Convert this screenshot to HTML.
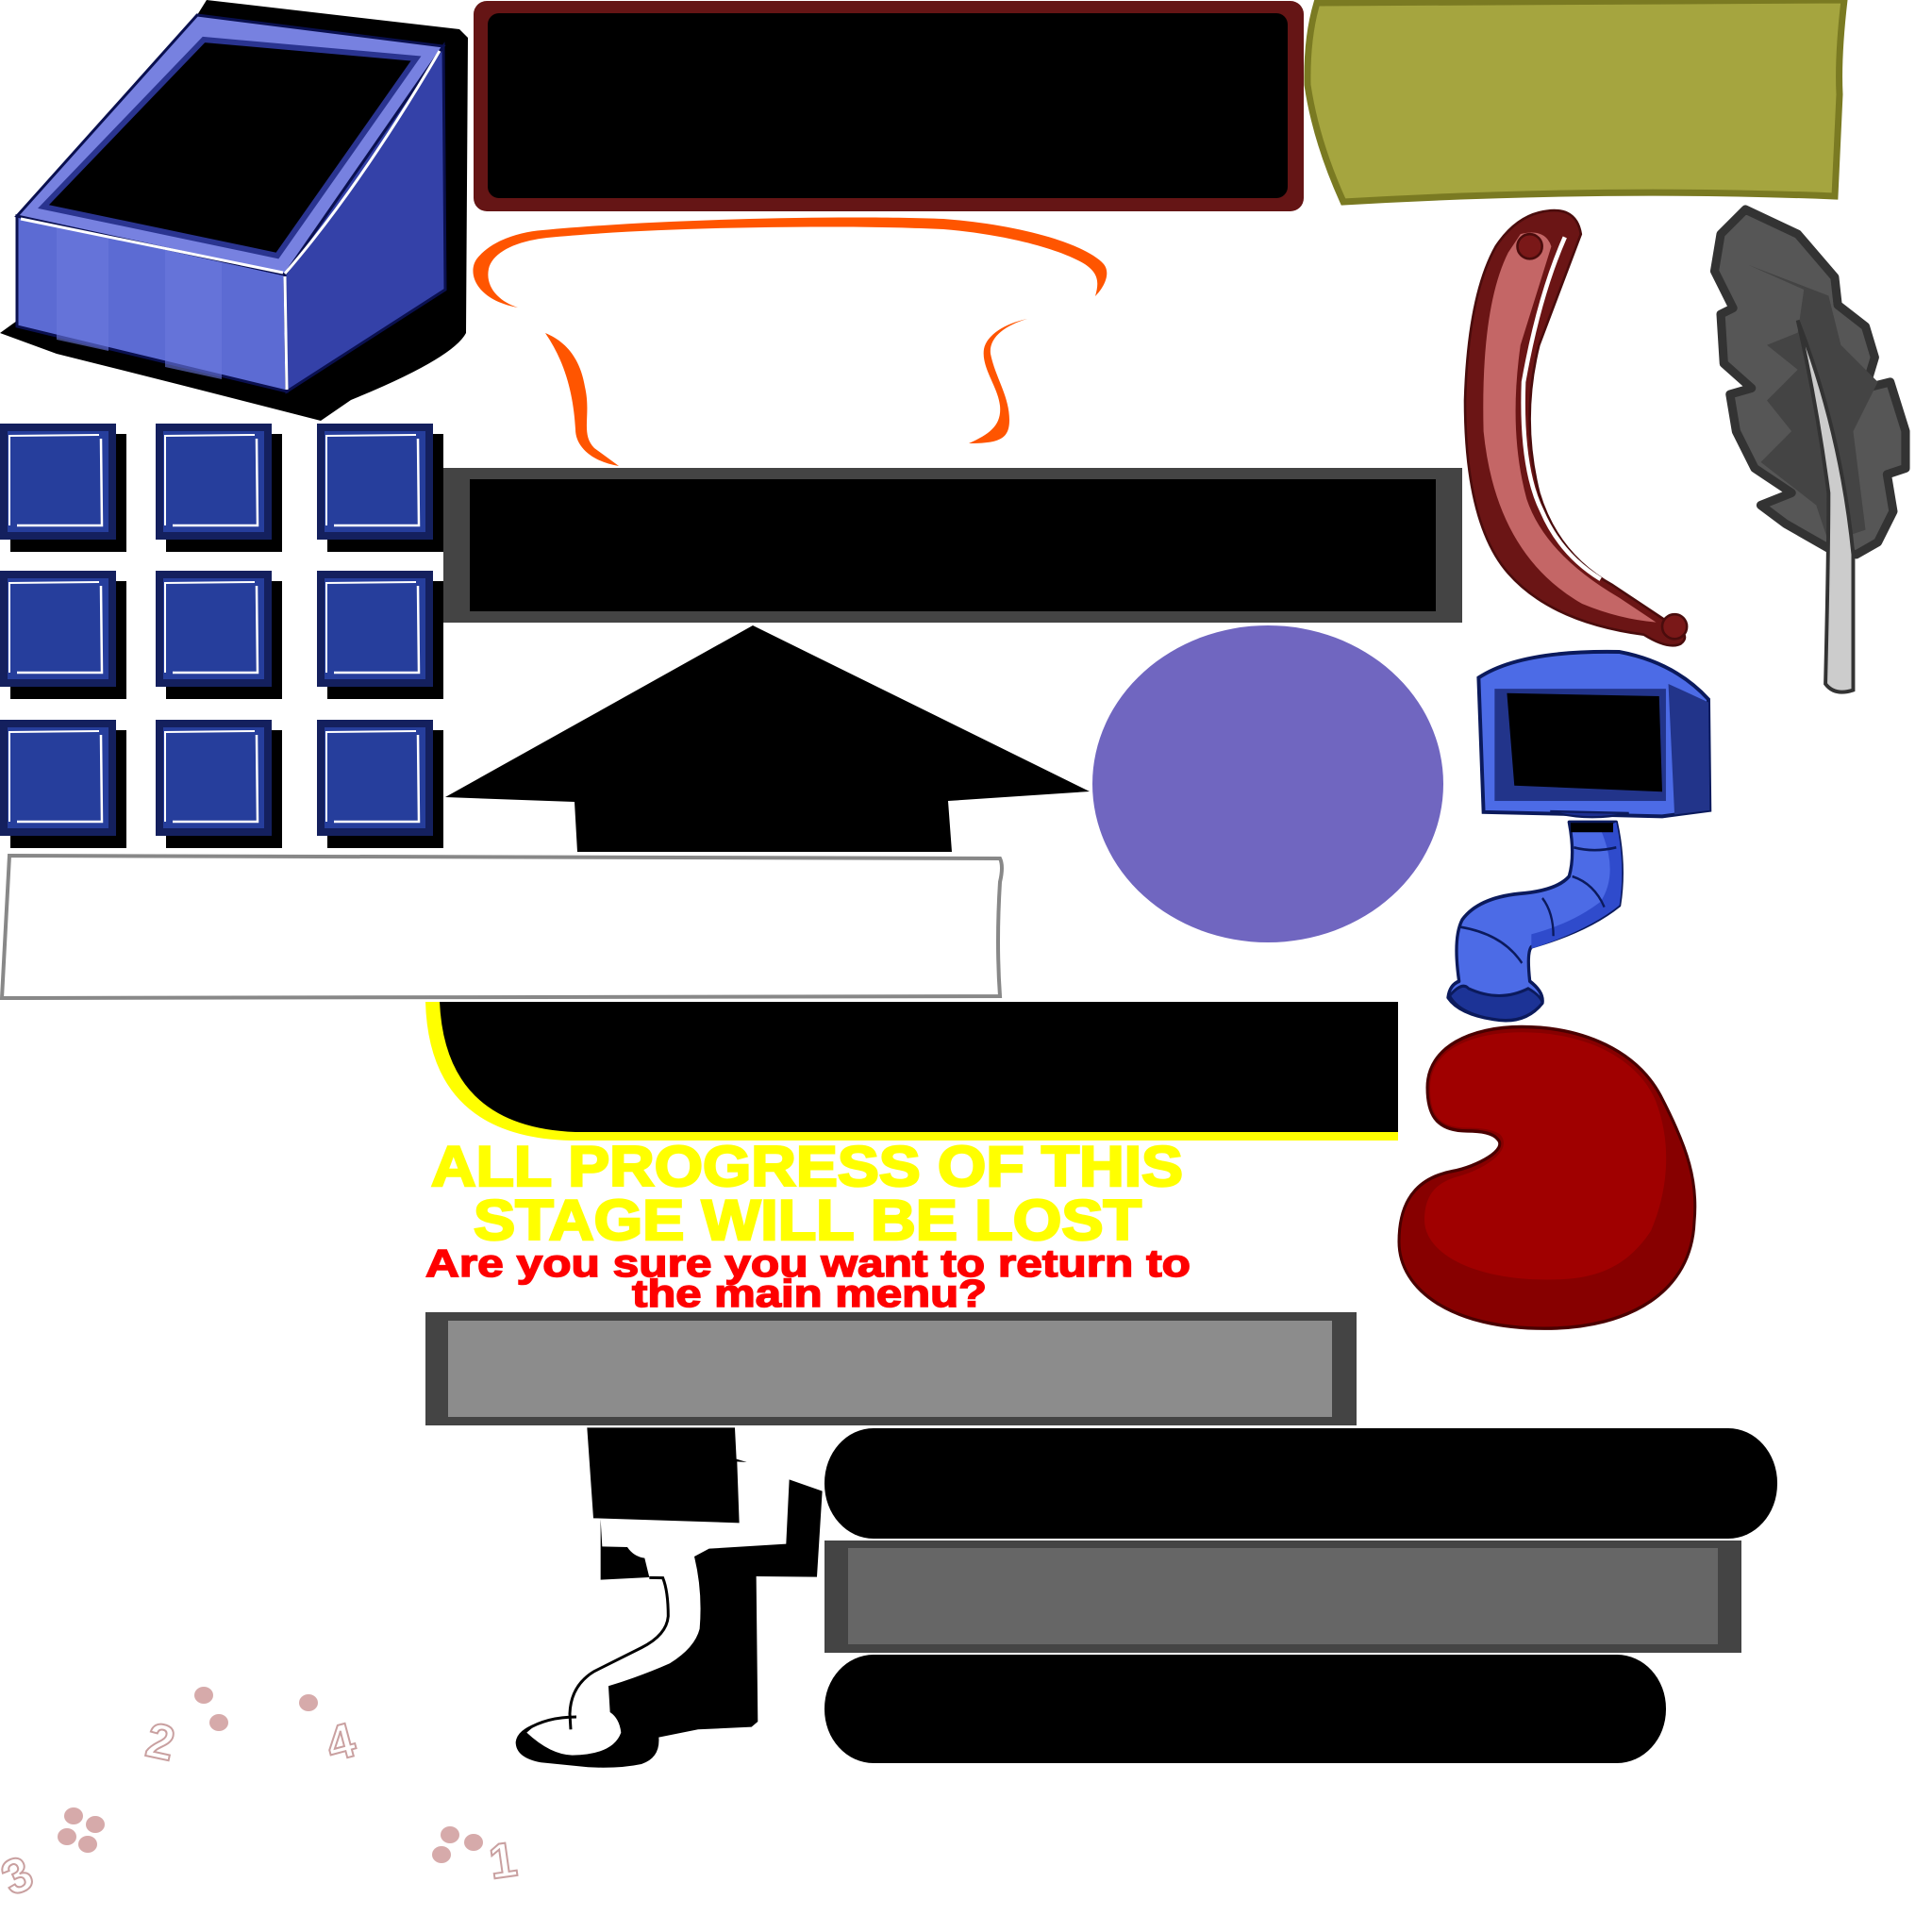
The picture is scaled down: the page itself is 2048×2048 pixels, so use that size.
<!DOCTYPE html>
<html><head><meta charset="utf-8"><style>html,body{margin:0;padding:0;background:#fff}svg{display:block}</style></head>
<body>
<svg width="2048" height="2048" viewBox="0 0 2048 2048" xmlns="http://www.w3.org/2000/svg">
<defs>
<g id="sq">
<rect x="11" y="11" width="123" height="125" fill="#000"/>
<rect x="0" y="0" width="123" height="123" fill="#14205e"/>
<rect x="8" y="8" width="107" height="107" fill="#263e9c"/>
<path d="M105,12 L10,13 L10,108" stroke="#fff" stroke-width="2" fill="none"/>
<path d="M107,16 L108,108 L18,108" stroke="#fff" stroke-width="2.5" fill="none"/>
</g>
</defs>
<rect width="2048" height="2048" fill="#fff"/>

<path d="M219,0 L487,31 L496,40 L494,353 Q480,380 372,424 L340,446 Q200,410 60,375 L0,353 L18,340 L209,16 Z" fill="#000"/>
<polygon points="18,229 302,291 304,415 18,346" fill="#5c6bd3" stroke="#0a1050" stroke-width="3"/>
<polygon points="60,238 115,250 115,372 60,360" fill="#6a78de" opacity="0.6"/>
<polygon points="175,263 235,276 235,402 175,389" fill="#6a78de" opacity="0.6"/>
<polygon points="302,291 470,49 472,307 304,415" fill="#3441a8" stroke="#0a1050" stroke-width="3"/>
<polygon points="18,229 209,16 470,49 302,291" fill="#7781e0" stroke="#0a1050" stroke-width="3"/>
<polygon points="216,42 441,62 294,271 46,219" fill="#000" stroke="#2a3490" stroke-width="6"/>
<path d="M302,293 L304,413" stroke="#fff" stroke-width="3"/>
<path d="M302,290 Q380,200 466,54" stroke="#fff" stroke-width="3" fill="none"/>
<path d="M22,232 L300,289" stroke="#fff" stroke-width="3"/>

<rect x="502" y="1" width="880" height="223" rx="14" fill="#651515"/>
<rect x="517" y="14" width="848" height="196" rx="12" fill="#000"/>

<path d="M1396,3 L1955,0 Q1948,60 1950,100 L1945,208 Q1700,198 1424,214 Q1395,150 1386,90 Q1385,40 1396,3 Z" fill="#a5a53f" stroke="#7a7a22" stroke-width="7"/>

<path d="M549,326 C505,318 495,290 505,275 C520,255 550,246 575,244 C700,232 900,228 1000,232 C1080,238 1150,258 1170,280 C1178,290 1170,305 1161,314 C1165,300 1165,290 1150,280 C1120,262 1060,248 1000,243 C900,238 700,240 580,252 C545,256 522,268 518,285 C514,305 530,320 549,326 Z" fill="#ff5500"/>
<path d="M578,353 C600,362 615,380 620,410 C627,440 615,460 630,475 L656,494 C630,490 610,475 610,455 C608,420 600,385 578,353 Z" fill="#ff5500"/>
<path d="M1089,338 C1065,345 1048,358 1050,375 C1055,400 1070,420 1070,445 C1070,465 1060,470 1027,470 C1050,460 1062,450 1060,430 C1058,410 1040,390 1043,370 C1046,355 1065,343 1089,338 Z" fill="#ff5500"/>

<rect x="470" y="496" width="1080" height="164" fill="#444"/>
<rect x="498" y="508" width="1024" height="140" fill="#000"/>

<use href="#sq" x="0" y="449"/>
<use href="#sq" x="165" y="449"/>
<use href="#sq" x="336" y="449"/>
<use href="#sq" x="0" y="605"/>
<use href="#sq" x="165" y="605"/>
<use href="#sq" x="336" y="605"/>
<use href="#sq" x="0" y="763"/>
<use href="#sq" x="165" y="763"/>
<use href="#sq" x="336" y="763"/>

<polygon points="798,663 1155,839 1005,849 1009,903 612,903 609,850 472,845" fill="#000"/>

<ellipse cx="1344" cy="831" rx="186" ry="168" fill="#7066c0"/>

<path d="M10,907 L1060,910 Q1064,918 1060,935 Q1056,1000 1060,1056 L25,1058 L2,1058 Q6,980 10,907 Z" fill="#fff" stroke="#888" stroke-width="4"/>

<path d="M451,1062 L1482,1062 L1482,1209 L605,1209 Q455,1205 451,1062 Z" fill="#ff0"/>
<path d="M466,1062 L1482,1062 L1482,1200 L610,1200 Q472,1195 466,1062 Z" fill="#000"/>

<g font-family="'Liberation Sans', Arial, sans-serif" font-weight="bold">
<text x="457" y="1257" font-size="60" fill="#ff0" stroke="#ff0" stroke-width="2.5" textLength="797" lengthAdjust="spacingAndGlyphs">ALL PROGRESS OF THIS</text>
<text x="502" y="1314" font-size="60" fill="#ff0" stroke="#ff0" stroke-width="2.5" textLength="708" lengthAdjust="spacingAndGlyphs">STAGE WILL BE LOST</text>
<text x="451" y="1353" font-size="41" fill="#f00" stroke="#f00" stroke-width="1.5" textLength="811" lengthAdjust="spacingAndGlyphs">Are you sure you want to return to</text>
<text x="670" y="1385" font-size="41" fill="#f00" stroke="#f00" stroke-width="1.5" textLength="376" lengthAdjust="spacingAndGlyphs">the main menu?</text>
</g>

<rect x="451" y="1391" width="987" height="120" fill="#444"/>
<rect x="475" y="1400" width="937" height="102" fill="#8c8c8c"/>

<rect x="874" y="1514" width="1010" height="117" rx="52" ry="58" fill="#000"/>
<rect x="874" y="1633" width="972" height="119" fill="#444"/>
<rect x="899" y="1641" width="922" height="102" fill="#666"/>
<rect x="874" y="1754" width="892" height="115" rx="52" ry="57" fill="#000"/>

<g transform="translate(540,1500) scale(0.3333)">
<path d="M247,40 L717,40 L722,140 L755,150 L724,148 L731,343 L267,328 Z" fill="#000"/>
<path d="M635,425 L880,410 L890,205 L995,242 L978,515 L785,513 L790,975 L770,992 L600,1000 L475,1025 Q480,1090 420,1110 Q350,1125 250,1120 L100,1105 Q20,1090 20,1040 Q25,1000 90,980 L55,1010 Q130,1080 200,1082 Q330,1080 355,1010 Q350,965 320,945 L315,862 Q420,830 510,790 Q590,740 605,680 Q615,560 588,450 Z" fill="#000"/>
<path d="M290,330 L295,418 L375,420 Q395,450 430,455 L445,516 L290,524 Z" fill="#000"/>
<path d="M445,517 L488,518 Q505,560 505,640 Q500,700 420,740 L270,815 Q195,860 192,950 L195,1000" stroke="#000" stroke-width="9" fill="none"/>
<path d="M55,1000 Q120,960 213,960" stroke="#000" stroke-width="9" fill="none"/>
</g>

<g transform="translate(1024,0) scale(0.6531)">
<path d="M930,345 Q990,330 998,380 L930,560 Q900,680 930,800 Q960,900 1050,950 L1140,1010 Q1180,1030 1160,1045 Q1140,1055 1100,1030 Q950,1010 880,930 Q810,850 810,650 Q815,480 860,400 Q890,355 930,345 Z" fill="#6b1515" stroke="#4a0c0c" stroke-width="4"/>
<path d="M900,380 Q940,370 950,400 L900,560 Q880,700 910,810 Q940,900 1060,970 L1120,1010 Q1060,1005 1000,980 Q860,900 840,700 Q835,500 880,410 Z" fill="#c46666"/>
<path d="M972,385 Q930,480 905,620 Q900,760 935,830 Q965,900 1030,940" stroke="#fff" stroke-width="7" fill="none"/>
<circle cx="915" cy="400" r="20" fill="#7a1818" stroke="#4a0c0c" stroke-width="4"/>
<circle cx="1150" cy="1017" r="20" fill="#7a1818" stroke="#4a0c0c" stroke-width="4"/>

<polygon points="1265,340 1350,380 1410,450 1415,495 1460,530 1475,580 1460,630 1500,620 1525,700 1525,760 1495,770 1505,830 1480,880 1445,900 1400,890 1330,850 1290,820 1340,800 1280,760 1250,700 1240,640 1275,630 1230,590 1225,510 1245,500 1215,440 1225,380" fill="#565656" stroke="#333" stroke-width="14" stroke-linejoin="round"/>
<path d="M1270,430 L1360,470 L1350,540 L1300,560 L1350,600 L1300,650 L1340,700 L1290,750 L1380,820 L1400,880 L1460,860 L1440,700 L1480,620 L1420,560 L1400,480 Z" fill="#444"/>
<path d="M1350,520 Q1420,700 1440,900 L1440,1120 Q1410,1130 1395,1110 Q1400,900 1400,800 Q1380,650 1350,520 Z" fill="#ccc" stroke="#333" stroke-width="6"/>

<path d="M832,1100 Q900,1055 1060,1058 Q1150,1075 1205,1135 L1207,1315 L1130,1325 L840,1318 Z" fill="#4c6be6" stroke="#0b1a5c" stroke-width="6"/>
<path d="M1140,1110 L1205,1140 L1207,1315 L1150,1322 Z" fill="#22348a"/>
<rect x="858" y="1118" width="278" height="182" fill="#22348a"/>
<polygon points="878,1125 1125,1130 1130,1285 890,1275" fill="#000"/>
</g>

<g transform="translate(0,860) scale(1,1.15) translate(0,-860)">
<g transform="translate(1450,850) scale(0.3333)">
<path d="M580,30 Q700,60 830,35 L580,30 Z" fill="#1c2f8f" stroke="#0b1a5c" stroke-width="6"/>
<path d="M640,60 L790,60 Q820,180 800,290 Q700,360 520,405 Q505,420 515,500 Q560,530 555,560 Q500,620 400,605 Q290,590 255,545 Q260,510 290,500 Q270,380 300,330 Q350,270 480,258 Q600,250 640,210 Q660,150 640,60 Z" fill="#4c6be6" stroke="#0b1a5c" stroke-width="10" stroke-linejoin="round"/>
<path d="M740,80 Q800,200 740,280 Q650,340 520,370 L520,410 Q700,360 800,290 Q820,180 790,60 Z" fill="#2f4bcc"/>
<path d="M260,540 Q300,500 320,520 Q420,560 510,520 Q550,540 555,560 Q500,620 400,605 Q290,590 260,540 Z" fill="#1c3396" stroke="#0b1a5c" stroke-width="8"/>
<rect x="645" y="62" width="135" height="26" fill="#000"/>
<path d="M650,210 Q720,230 752,295 M555,270 Q590,310 590,375 M295,350 Q430,370 490,450 M655,130 Q720,145 790,130" stroke="#0b1a5c" stroke-width="7" fill="none"/>
</g>
</g>

<g transform="translate(0,1100) scale(1,1.15) translate(0,-1067)">
<path d="M1613,1057 C1680,1057 1735,1080 1760,1120 C1790,1170 1800,1200 1796,1237 C1793,1300 1730,1335 1637,1335 C1540,1335 1483,1300 1483,1255 C1483,1210 1510,1195 1540,1190 C1565,1186 1600,1170 1587,1160 C1580,1153 1560,1153 1555,1153 C1520,1153 1513,1135 1513,1113 C1513,1075 1560,1057 1613,1057 Z" fill="#870000" stroke="#4a0000" stroke-width="3"/>
<path d="M1613,1062 C1680,1062 1735,1085 1755,1125 C1775,1170 1765,1215 1750,1245 C1720,1285 1680,1290 1640,1290 C1560,1290 1510,1265 1510,1235 C1510,1210 1525,1200 1545,1195 C1575,1188 1605,1170 1590,1156 C1580,1150 1560,1150 1555,1150 C1520,1150 1516,1132 1516,1113 C1516,1078 1560,1062 1613,1062 Z" fill="#a00000"/>
</g>

<g fill="#d6aaaa">
<ellipse cx="216" cy="1797" rx="10" ry="9"/>
<ellipse cx="232" cy="1826" rx="10" ry="9"/>
<ellipse cx="327" cy="1805" rx="10" ry="9"/>
<ellipse cx="78" cy="1925" rx="10" ry="9"/>
<ellipse cx="101" cy="1934" rx="10" ry="9"/>
<ellipse cx="71" cy="1947" rx="10" ry="9"/>
<ellipse cx="93" cy="1955" rx="10" ry="9"/>
<ellipse cx="477" cy="1945" rx="10" ry="9"/>
<ellipse cx="502" cy="1953" rx="10" ry="9"/>
<ellipse cx="468" cy="1966" rx="10" ry="9"/>
</g>
<g font-family="'Liberation Sans', sans-serif" font-weight="bold" font-size="52" fill="#fff" stroke="#c9a0a0" stroke-width="2">
<text x="156" y="1864" transform="rotate(12 170 1845)">2</text>
<text x="345" y="1864" transform="rotate(-15 362 1840)">4</text>
<text x="0" y="2006" transform="rotate(-25 16 1980)">3</text>
<text x="518" y="1990" transform="rotate(-8 532 1968)">1</text>
</g>
</svg>
</body></html>
